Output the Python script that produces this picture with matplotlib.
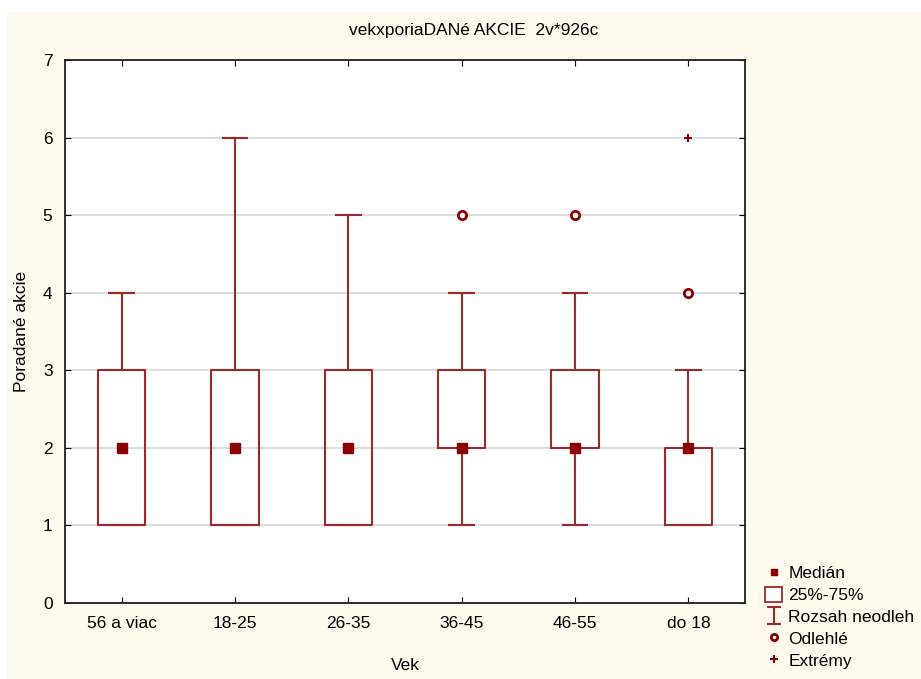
import numpy as np
import matplotlib
matplotlib.use('Agg')
import matplotlib.pyplot as plt
from matplotlib.lines import Line2D
from matplotlib.patches import Patch, Rectangle

plt.rcParams['font.family'] = ['Liberation Sans', 'DejaVu Sans']

# data
categories = ['56 a viac', '18-25', '26-35', '36-45', '46-55', 'do 18']
medians = [2, 2, 2, 2, 2, 2]
q1 = [1, 1, 1, 2, 2, 1]
q3 = [3, 3, 3, 3, 3, 2]
whisk_lo = [1, 1, 1, 1, 1, 1]
whisk_hi = [4, 6, 5, 4, 4, 3]
outliers = [[], [], [], [5], [5], [4]]
extremes = [[], [], [], [], [], [6]]

title = 'vekxporiaDANé AKCIE  2v*926c'
xlabel = 'Vek'
ylabel = 'Poradané akcie'

red = '#9B2B2B'
dark = '#8B0000'
cream = '#FFF9EE'

fig = plt.figure(figsize=(9.21, 6.79), dpi=100)
fig.patch.set_facecolor(cream)
# white strip at top and left edge
fig.patches.append(Rectangle((0, 1 - 12 / 679), 1, 12 / 679, transform=fig.transFigure,
                             facecolor='white', edgecolor='none', zorder=0))
fig.patches.append(Rectangle((0, 0), 7 / 921, 1, transform=fig.transFigure,
                             facecolor='white', edgecolor='none', zorder=0))

ax = fig.add_axes([65 / 921, 1 - 603 / 679, (745 - 65) / 921, (603 - 60) / 679])
ax.set_facecolor('white')

pos = np.arange(1, len(categories) + 1)
stats = []
for i, c in enumerate(categories):
    stats.append(dict(label=c, med=medians[i], q1=q1[i], q3=q3[i],
                      whislo=whisk_lo[i], whishi=whisk_hi[i], fliers=[]))

ax.bxp(stats, positions=pos, widths=0.42, showfliers=False, showcaps=True,
       boxprops=dict(color=red, linewidth=1.5),
       whiskerprops=dict(color=red, linewidth=1.5),
       capprops=dict(color=red, linewidth=1.5),
       medianprops=dict(linestyle='none'),
       capwidths=0.22)

ax.plot(pos, medians, 's', color=dark, markersize=7, linestyle='none', zorder=5)

for p, o in zip(pos, outliers):
    if o:
        ax.plot([p] * len(o), o, 'o', markerfacecolor='white', markeredgecolor=dark,
                markeredgewidth=2, markersize=6, linestyle='none', zorder=5)
for p, e in zip(pos, extremes):
    if e:
        ax.plot([p] * len(e), e, '+', color=dark, markersize=6, markeredgewidth=1.5,
                linestyle='none', zorder=5)

ax.set_xlim(0.5, len(categories) + 0.5)
ax.set_ylim(0, 7)
ax.set_yticks(range(0, 8))
ax.set_xticks(pos)
ax.set_xticklabels(categories)
ax.yaxis.grid(True, color='#D8D8D8', linewidth=1.2)
ax.set_axisbelow(True)
ax.tick_params(direction='in', top=True, right=True, length=4, labelsize=12.5,
               colors='black', pad=9)
for s in ax.spines.values():
    s.set_linewidth(1.3)
    s.set_color('#202020')

ax.set_xlabel(xlabel, fontsize=12.5, labelpad=20)
ax.set_ylabel(ylabel, fontsize=12.5, labelpad=10)
fig.text(0.514, 1 - 31 / 679, title, ha='center', va='center', fontsize=12.5)

# legend
eb = ax.errorbar([np.nan], [np.nan], yerr=[1], fmt='none', ecolor=red,
                 capsize=5, elinewidth=1.5, capthick=1.5)
handles = [
    Line2D([], [], marker='s', color=dark, linestyle='none', markersize=5),
    Patch(facecolor='white', edgecolor=red, linewidth=1.3),
    eb,
    Line2D([], [], marker='o', markerfacecolor='white', markeredgecolor=dark,
           markeredgewidth=2, linestyle='none', markersize=4.5),
    Line2D([], [], marker='+', color=dark, linestyle='none', markersize=6,
           markeredgewidth=1.5),
]
labels = ['Medián', '25%-75%', 'Rozsah neodleh', 'Odlehlé', 'Extrémy']
leg = fig.legend(handles, labels, loc='lower left',
                 bbox_to_anchor=(758 / 921, 3 / 679), frameon=False,
                 fontsize=12.5, handlelength=1.0, handleheight=1.0,
                 handletextpad=0.35, labelspacing=0.3, borderaxespad=0)

plt.savefig('out.png', dpi=100, facecolor=fig.get_facecolor())
